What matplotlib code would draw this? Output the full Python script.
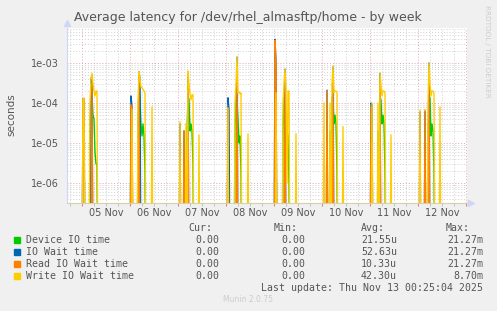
import numpy as np
import matplotlib
matplotlib.use("Agg")
from matplotlib import pyplot as plt
from matplotlib.ticker import FixedLocator, NullFormatter

W, H = 497, 311

day_labels = ["05 Nov", "06 Nov", "07 Nov", "08 Nov", "09 Nov", "10 Nov", "11 Nov", "12 Nov"]

# one sample every 30 min; keys = half-hours after midnight of each day (seconds)
device_io = [
    {8: 2e-5, 9: 1.6e-4, 10: 1.5e-4, 11: 5e-5, 12: 4e-5, 13: 6e-6, 14: 3e-6, 15: 3e-6},
    {8: 3e-5, 9: 3e-4, 10: 1.2e-4, 11: 3e-5, 12: 1.5e-5, 13: 3e-5, 14: 1.5e-5, 15: 2e-6},
    {9: 2e-5, 10: 1.6e-4, 11: 1.2e-4, 12: 2e-5, 13: 3e-5, 14: 2e-5, 15: 3e-6},
    {9: 2e-5, 10: 1.5e-4, 11: 1.2e-4, 12: 4e-5, 13: 1e-5, 14: 1.5e-5, 15: 2e-6},
    {9: 2e-5, 10: 1.3e-4, 11: 1.1e-4, 12: 1e-5, 13: 2e-5, 14: 1.5e-5, 15: 1e-6},
    {8: 2e-5, 10: 1.4e-4, 11: 1.3e-4, 12: 3e-5, 13: 5e-5, 14: 3e-5, 15: 2e-6},
    {8: 2e-5, 10: 1.4e-4, 11: 1.2e-4, 12: 3e-5, 13: 5e-5, 14: 3e-5, 15: 2e-6},
    {10: 2e-5, 11: 1.6e-4, 12: 1.3e-4, 13: 1.5e-5, 14: 3e-5, 15: 2e-5, 16: 2e-6},
]
io_wait = [
    {1: 1.2e-4, 2: 1.3e-4, 9: 4e-4, 10: 5e-4},
    {1: 1.5e-4, 2: 8e-5, 9: 6e-4, 10: 4e-4},
    {2: 3e-5, 6: 2e-5, 10: 6e-4},
    {2: 1.35e-4, 3: 7e-5, 11: 1.4e-3},
    {1: 3.9e-3, 2: 1e-3, 11: 7e-4},
    {5: 2.1e-4, 11: 8e-4},
    {1: 1e-4, 2: 9e-5, 10: 5.5e-4},
    {2: 6e-5, 7: 6e-5, 11: 1e-3},
]
read_wait = [
    {1: 1.3e-4, 2: 1.2e-4, 10: 3e-4},
    {1: 9e-5, 2: 8e-5, 9: 4e-4},
    {6: 2e-5, 10: 3e-4},
    {2: 7.5e-5, 11: 5e-4},
    {1: 3.7e-3, 2: 1e-3, 11: 3e-4},
    {5: 2e-4, 11: 4e-4},
    {1: 8e-5, 10: 3e-4},
    {7: 6.7e-5, 11: 4e-4},
]
write_wait = [
    {1: 1.2e-4, 2: 1.3e-4, 8: 1e-4, 9: 4e-4, 10: 5.5e-4, 11: 3e-4, 12: 2e-4,
     13: 1.5e-4, 14: 2e-4, 15: 2e-4},
    {2: 7e-5, 8: 1e-4, 9: 6e-4, 10: 4e-4, 11: 2.5e-4, 12: 2.4e-4, 13: 2.2e-4,
     14: 2e-4, 15: 1.8e-4, 22: 8e-5},
    {2: 3.4e-5, 8: 3e-5, 10: 6.3e-4, 11: 3e-4, 12: 1.7e-4, 13: 1.2e-4, 14: 1.6e-4,
     15: 1.6e-4, 21: 1.6e-5},
    {2: 7.5e-5, 9: 1e-4, 10: 3e-4, 11: 1.4e-3, 12: 1.8e-4, 13: 1.9e-4, 14: 1.7e-4,
     15: 1.8e-4, 22: 1.7e-5},
    {2: 1.8e-4, 9: 1e-4, 10: 3e-4, 11: 7e-4, 12: 2.5e-4, 13: 1e-6, 14: 2e-4,
     15: 2e-4, 22: 1.7e-5},
    {2: 1e-4, 8: 1e-4, 10: 3e-4, 11: 8.4e-4, 12: 1.8e-4, 13: 2e-4, 14: 2e-4,
     15: 1.9e-4, 21: 2.6e-5},
    {2: 1e-4, 8: 1e-4, 10: 5.6e-4, 11: 3e-4, 12: 1.5e-4, 13: 2e-4, 14: 2e-4,
     15: 1.8e-4, 21: 1.6e-5},
    {2: 6.7e-5, 10: 1e-4, 11: 1e-3, 12: 3e-4, 13: 1.5e-4, 14: 2e-4, 15: 2e-4,
     16: 1.8e-4, 22: 8e-5},
]

legend_names = ["Device IO time", "IO Wait time", "Read IO Wait time", "Write IO Wait time"]
legend_cur = ["0.00", "0.00", "0.00", "0.00"]
legend_min = ["0.00", "0.00", "0.00", "0.00"]
legend_avg = ["21.55u", "52.63u", "10.33u", "42.30u"]
legend_max = ["21.27m", "21.27m", "21.27m", "8.70m"]
colors = ["#00cc00", "#0066b3", "#ff8000", "#ffcc00"]

# time axis in hours from 05 Nov 00:00, 30 min steps
t = np.arange(-15, 386) * 0.5


def build(days):
    v = np.zeros(len(t))
    for d, samples in enumerate(days):
        for k, val in samples.items():
            v[15 + 48 * d + k] = val
    return v


fig = plt.figure(figsize=(W / 100, H / 100), dpi=100, facecolor="#f0f0f0")
ax = fig.add_axes([67 / W, 1 - 203 / H, 400 / W, 175 / H], facecolor="white")

for days, c in zip([device_io, io_wait, read_wait, write_wait], colors):
    v = build(days)
    ax.plot(t, np.where(v > 0, v, 1e-9), color=c, lw=1.0)

ax.set_yscale("log")
ax.set_ylim(10 ** -6.5, 10 ** -2.125)
ax.set_xlim(-7.5, 192.5)

ax.yaxis.set_major_locator(FixedLocator([1e-6, 1e-5, 1e-4, 1e-3]))
ax.yaxis.set_major_formatter(lambda y, p: "1e-%02d" % round(-np.log10(y)))
minor_y = [m * 10.0 ** e for e in range(-7, -2) for m in range(2, 10)]
ax.yaxis.set_minor_locator(FixedLocator(minor_y))
ax.yaxis.set_minor_formatter(NullFormatter())
ax.xaxis.set_major_locator(FixedLocator(np.arange(0, 193, 24)))
ax.xaxis.set_minor_locator(FixedLocator([h for h in range(-6, 193, 6) if h % 24]))
ax.xaxis.set_major_formatter(NullFormatter())

ax.grid(which="major", color="#e2a8a8", lw=0.7, ls=(0, (1, 2)))
ax.grid(which="minor", color="#cfcfcf", lw=0.7, ls=(0, (1, 2)))
ax.set_axisbelow(True)

ax.tick_params(axis="y", which="both", length=0, labelsize=7, labelcolor="#555555", pad=6)
ax.tick_params(axis="x", which="major", length=2, color="#e08080", direction="out")
ax.tick_params(axis="x", which="minor", length=2, color="#bbbbbb", direction="out")

for s in ["top", "right"]:
    ax.spines[s].set_visible(False)
ax.spines["left"].set_color("#cfd6f8")
ax.spines["bottom"].set_color("#d8d0a8")

ax.plot([0], [1.03], marker="^", ms=4, color="#cfd6f8", transform=ax.transAxes, clip_on=False)
ax.plot([1.01], [0], marker=">", ms=4, color="#cfd6f8", transform=ax.transAxes, clip_on=False)

for d, lab in enumerate(day_labels):
    ax.text(24 * d + 12, -0.055, lab, transform=ax.get_xaxis_transform(),
            ha="center", va="center", fontsize=7, color="#555555")

fig.text(248 / W, 1 - 18 / H, "Average latency for /dev/rhel_almasftp/home - by week",
         ha="center", va="center", fontsize=9, color="#555555")
fig.text(11 / W, 1 - 115 / H, "seconds", rotation=90, ha="center", va="center",
         fontsize=7.5, color="#555555")
fig.text(487 / W, 1 - 5 / H, "RRDTOOL / TOBI OETIKER", rotation=270, ha="center", va="top",
         fontsize=5.2, color="#cccccc")

mono = {"family": "DejaVu Sans Mono", "fontsize": 7.1, "color": "#555555"}
hy = 1 - 228 / H
for x, h in zip([212, 298, 385, 470], ["Cur:", "Min:", "Avg:", "Max:"]):
    fig.text(x / W, hy, h, ha="right", va="center", **mono)

for i in range(4):
    y = 240 + i * 12
    fig.patches.append(plt.Rectangle((14 / W, 1 - (y + 3) / H), 6 / W, 6 / H,
                                     transform=fig.transFigure, color=colors[i]))
    fig.text(26 / W, 1 - y / H, legend_names[i], ha="left", va="center", **mono)
    fig.text(219 / W, 1 - y / H, legend_cur[i], ha="right", va="center", **mono)
    fig.text(305 / W, 1 - y / H, legend_min[i], ha="right", va="center", **mono)
    fig.text(397 / W, 1 - y / H, legend_avg[i], ha="right", va="center", **mono)
    fig.text(483 / W, 1 - y / H, legend_max[i], ha="right", va="center", **mono)

fig.text(483 / W, 1 - 288 / H, "Last update: Thu Nov 13 00:25:04 2025", ha="right",
         va="center", **mono)
fig.text(248 / W, 1 - 300 / H, "Munin 2.0.75", ha="center", va="center",
         fontsize=5.5, color="#cccccc")

fig.savefig("out.png", dpi=100, facecolor=fig.get_facecolor())
